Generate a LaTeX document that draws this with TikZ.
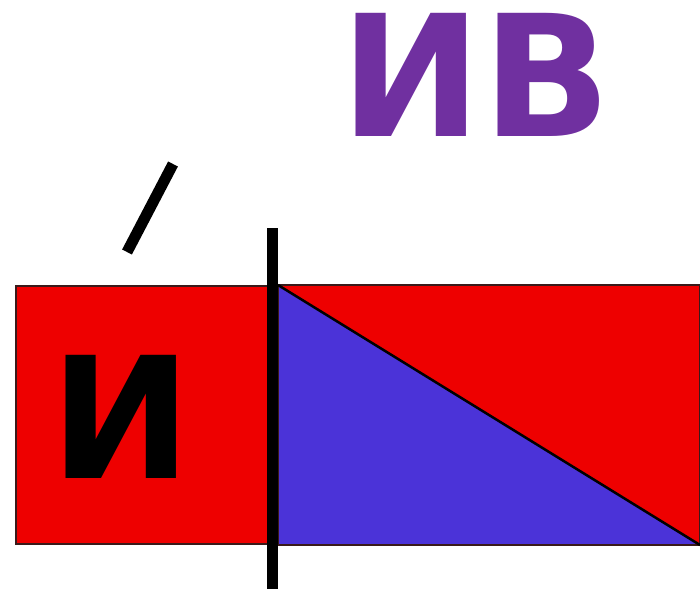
\documentclass[tikz,border=0pt]{standalone}
\usepackage{fontspec}
\setmainfont{DejaVu Sans}
\usepackage{xcolor}
\usepackage{tikz}
\definecolor{partred}{HTML}{EE0000}
\definecolor{partblue}{HTML}{4B33D8}
\definecolor{wordpurple}{HTML}{7030A0}
\definecolor{edge}{HTML}{3A1A1A}

\begin{document}
\begin{tikzpicture}[x=1pt, y=-1pt,
  letter/.style={font=\fontsize{169}{169}\selectfont\bfseries,
                 inner sep=0pt, anchor=base},
  part/.style={draw=edge, line width=1.5pt},
  bar/.style={line width=11pt, color=black}
]
\useasboundingbox (0,0) rectangle (700,590);
% corners of the two parts
\coordinate (lnw) at (16,286);
\coordinate (lse) at (269,544);
\coordinate (rnw) at (278,285);
\coordinate (rne) at (700,285);
\coordinate (rse) at (700,545);
\coordinate (rsw) at (278,545);
% left part
\draw[part, fill=partred] (lnw) rectangle (lse);
% right part: two triangles
\fill[partred]  (rnw) -- (rne) -- (rse) -- cycle;
\fill[partblue] (rnw) -- (rse) -- (rsw) -- cycle;
\draw[part] (rsw) -- (rnw) -- (rne) -- (rse) -- (rsw);
\draw[line width=2.5pt] (rnw) -- (rse);
% split bar and slash
\coordinate (bartop) at (272,228);
\coordinate (barbot) at (272,589);
\draw[bar] (bartop) -- (barbot);
\coordinate (slhi) at (173,164);
\coordinate (sllo) at (127,252);
\draw[bar] (slhi) -- (sllo);
% letters
\node[letter, text=wordpurple] (word) at (476,136) {ИВ};
\node[letter, text=black] (first) at (121,478) {И};
\end{tikzpicture}
\end{document}
